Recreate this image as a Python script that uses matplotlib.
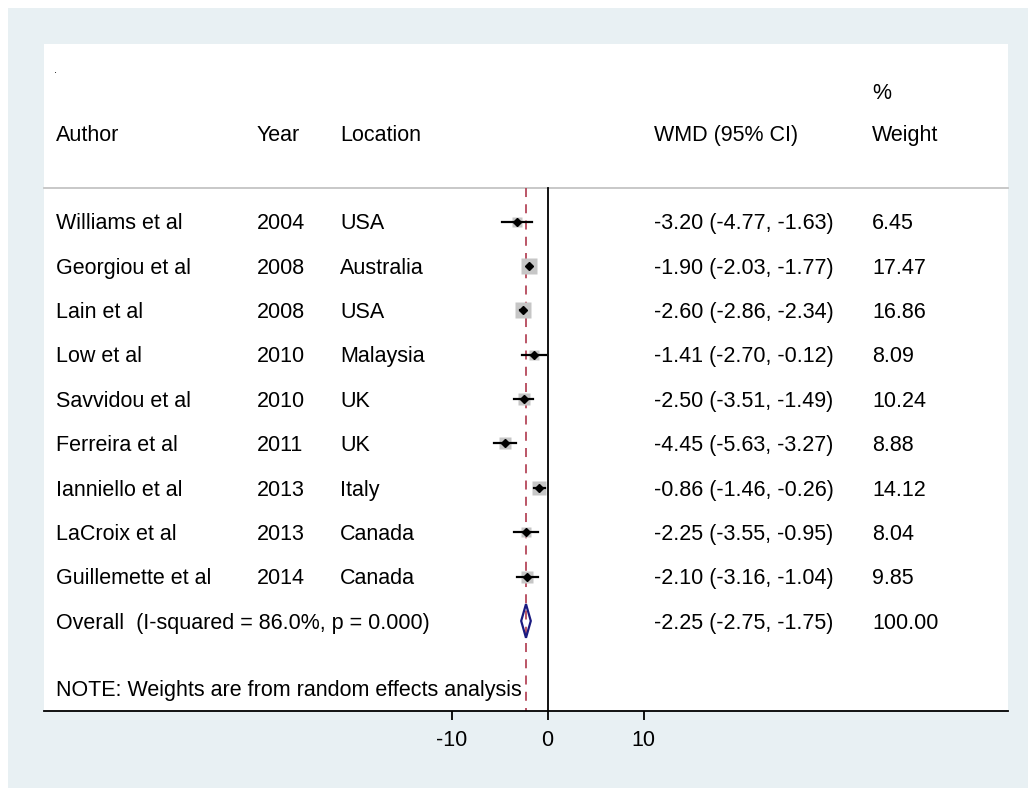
import matplotlib.pyplot as plt
import numpy as np
from matplotlib.patches import Rectangle, Polygon

plt.rcParams['font.family'] = ['Liberation Sans', 'DejaVu Sans']
plt.rcParams['axes.unicode_minus'] = False

# Study-level data
authors = ['Williams et al', 'Georgiou et al', 'Lain et al', 'Low et al', 'Savvidou et al',
           'Ferreira et al', 'Ianniello et al', 'LaCroix et al', 'Guillemette et al']
years = ['2004', '2008', '2008', '2010', '2010', '2011', '2013', '2013', '2014']
locations = ['USA', 'Australia', 'USA', 'Malaysia', 'UK', 'UK', 'Italy', 'Canada', 'Canada']
wmd = [-3.20, -1.90, -2.60, -1.41, -2.50, -4.45, -0.86, -2.25, -2.10]
lo = [-4.77, -2.03, -2.86, -2.70, -3.51, -5.63, -1.46, -3.55, -3.16]
hi = [-1.63, -1.77, -2.34, -0.12, -1.49, -3.27, -0.26, -0.95, -1.04]
weights = [6.45, 17.47, 16.86, 8.09, 10.24, 8.88, 14.12, 8.04, 9.85]

overall = -2.25
overall_lo = -2.75
overall_hi = -1.75
overall_label = 'Overall  (I-squared = 86.0%, p = 0.000)'
xticks = [-10, 0, 10]

W, H = 1028, 788
fig = plt.figure(figsize=(W / 100, H / 100), dpi=100)
fig.patch.set_facecolor('white')
fig.patches.append(Rectangle((8 / W, 0), 1 - 8 / W, 1 - 8 / H, transform=fig.transFigure,
                             facecolor='#E8F0F3', edgecolor='none', zorder=-1))

ax = fig.add_axes([44 / W, (H - 711) / H, 963.5 / W, 667 / H])
ax.set_facecolor('white')
xmin, xmax = -52.45, 47.9
ymax, ymin = 12.03, -3.005
ax.set_xlim(xmin, xmax)
ax.set_ylim(ymax, ymin)

fs = 15.5
col_x = {'author': -51.2, 'year': -30.26, 'loc': -21.6, 'wmd': 11.09, 'wt': 33.8}
head_line = 0.24
dy = 0.05  # text sits a touch below the marker centre

# header
ax.text(-51.4, -2.42, '.', fontsize=8, va='center')
ax.text(col_x['author'], -1.0 + dy, 'Author', fontsize=fs, va='center')
ax.text(col_x['year'], -1.0 + dy, 'Year', fontsize=fs, va='center')
ax.text(col_x['loc'], -1.0 + dy, 'Location', fontsize=fs, va='center')
ax.text(col_x['wmd'], -1.0 + dy, 'WMD (95% CI)', fontsize=fs, va='center')
ax.text(col_x['wt'], -1.0 + dy, 'Weight', fontsize=fs, va='center')
ax.text(col_x['wt'], -1.95 + dy, '%', fontsize=fs, va='center')
ax.plot([xmin, xmax], [head_line, head_line], color='#C4C4C4', lw=1.3, clip_on=False)

# reference lines
ax.plot([0, 0], [head_line, ymax], color='black', lw=1.3)
ax.plot([overall, overall], [head_line, ymax], color='#B5485A', lw=1.3, ls=(0, (5, 4)))

rows = np.arange(1, len(authors) + 1)
for i, y in enumerate(rows):
    ax.text(col_x['author'], y + dy, authors[i], fontsize=fs, va='center')
    ax.text(col_x['year'], y + dy, years[i], fontsize=fs, va='center')
    ax.text(col_x['loc'], y + dy, locations[i], fontsize=fs, va='center')
    ax.text(col_x['wmd'], y + dy, '%.2f (%.2f, %.2f)' % (wmd[i], lo[i], hi[i]), fontsize=fs, va='center')
    ax.text(col_x['wt'], y + dy, '%.2f' % weights[i], fontsize=fs, va='center')
    side = 3.7 * np.sqrt(weights[i]) * 0.72  # points
    ax.plot(wmd[i], y, marker='s', ms=side, color='#C6C6C6', mec='none', zorder=2)
    ax.plot([lo[i], hi[i]], [y, y], color='black', lw=1.6, zorder=3)
    ax.plot(wmd[i], y, marker='D', ms=4.5, color='black', zorder=4)

yo = len(authors) + 1
ax.text(col_x['author'], yo + dy, overall_label, fontsize=fs, va='center')
ax.text(col_x['wmd'], yo + dy, '%.2f (%.2f, %.2f)' % (overall, overall_lo, overall_hi), fontsize=fs, va='center')
ax.text(col_x['wt'], yo + dy, '100.00', fontsize=fs, va='center')
ax.add_patch(Polygon([[overall_lo, yo], [overall, yo - 0.38], [overall_hi, yo], [overall, yo + 0.38]],
                     closed=True, fill=False, edgecolor='#1A1A80', lw=1.6, zorder=5))

ax.text(col_x['author'], 11.51 + dy, 'NOTE: Weights are from random effects analysis', fontsize=fs, va='center')

for s in ['top', 'left', 'right']:
    ax.spines[s].set_visible(False)
ax.spines['bottom'].set_linewidth(1.3)
ax.set_yticks([])
ax.set_xticks(xticks)
ax.tick_params(axis='x', length=6.5, width=1.3, labelsize=fs, pad=7)

fig.savefig('out.png', dpi=100, facecolor=fig.get_facecolor())
